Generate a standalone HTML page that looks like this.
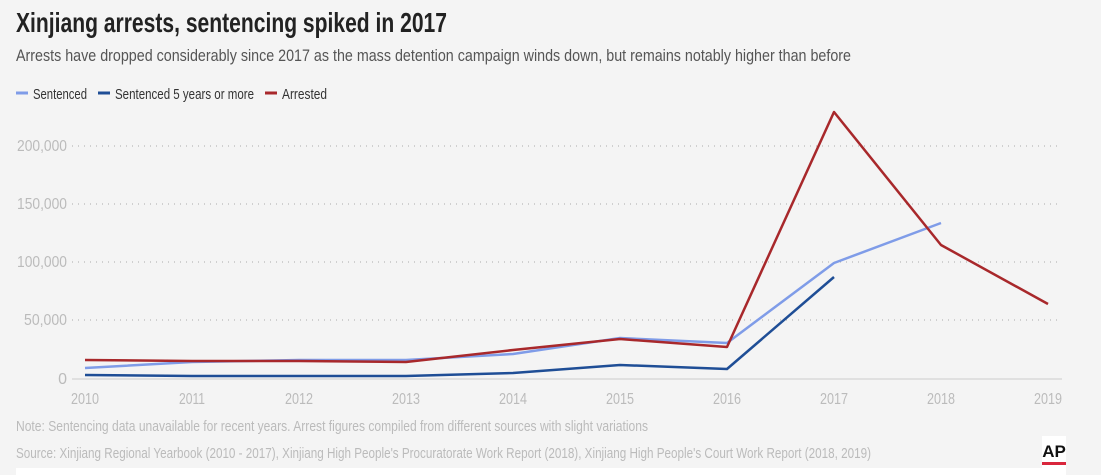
<!DOCTYPE html>
<html><head><style>body{margin:0;background:#f4f4f4;}svg{display:block;font-family:"Liberation Sans Narrow","Liberation Sans",sans-serif;}</style></head><body>
<svg width="1101" height="475" viewBox="0 0 1101 475">
<rect width="1101" height="475" fill="#f4f4f4"/>
<text x="16" y="32" font-size="28" font-weight="bold" fill="#222" textLength="431" lengthAdjust="spacingAndGlyphs">Xinjiang arrests, sentencing spiked in 2017</text>
<text x="16" y="61" font-size="17" fill="#555" textLength="835" lengthAdjust="spacingAndGlyphs">Arrests have dropped considerably since 2017 as the mass detention campaign winds down, but remains notably higher than before</text>
<line x1="16" y1="93" x2="28" y2="93" stroke="#7f9ce8" stroke-width="3"/>
<text x="33" y="99" font-size="15" fill="#333" textLength="54" lengthAdjust="spacingAndGlyphs">Sentenced</text>
<line x1="98" y1="93" x2="110" y2="93" stroke="#1f4e96" stroke-width="3"/>
<text x="115" y="99" font-size="15" fill="#333" textLength="139" lengthAdjust="spacingAndGlyphs">Sentenced 5 years or more</text>
<line x1="265" y1="93" x2="277" y2="93" stroke="#a8282b" stroke-width="3"/>
<text x="282" y="99" font-size="15" fill="#333" textLength="45" lengthAdjust="spacingAndGlyphs">Arrested</text>
<g stroke="#aaa" stroke-dasharray="1 5" stroke-width="1">
<line x1="72" y1="146" x2="1062" y2="146"/><line x1="72" y1="204" x2="1062" y2="204"/><line x1="72" y1="262" x2="1062" y2="262"/><line x1="72" y1="320" x2="1062" y2="320"/></g>
<line x1="72" y1="379" x2="1062" y2="379" stroke="#ccc"/>
<g font-size="16" fill="#bbb" text-anchor="end" lengthAdjust="spacingAndGlyphs">
<text x="67" y="151" textLength="50" lengthAdjust="spacingAndGlyphs">200,000</text><text x="67" y="209" textLength="50" lengthAdjust="spacingAndGlyphs">150,000</text><text x="67" y="267" textLength="50" lengthAdjust="spacingAndGlyphs">100,000</text><text x="67" y="325" textLength="43" lengthAdjust="spacingAndGlyphs">50,000</text><text x="67" y="384">0</text></g>
<g font-size="16" fill="#bbb" text-anchor="middle">
<text x="85" y="404" textLength="28" lengthAdjust="spacingAndGlyphs">2010</text><text x="192" y="404" textLength="26" lengthAdjust="spacingAndGlyphs">2011</text><text x="299" y="404" textLength="28" lengthAdjust="spacingAndGlyphs">2012</text><text x="406" y="404" textLength="28" lengthAdjust="spacingAndGlyphs">2013</text><text x="513" y="404" textLength="28" lengthAdjust="spacingAndGlyphs">2014</text><text x="620" y="404" textLength="28" lengthAdjust="spacingAndGlyphs">2015</text><text x="727" y="404" textLength="28" lengthAdjust="spacingAndGlyphs">2016</text><text x="834" y="404" textLength="28" lengthAdjust="spacingAndGlyphs">2017</text><text x="941" y="404" textLength="28" lengthAdjust="spacingAndGlyphs">2018</text><text x="1048" y="404" textLength="28" lengthAdjust="spacingAndGlyphs">2019</text></g>
<g fill="none" stroke-width="2.5" stroke-linejoin="round">
<polyline stroke="#7f9ce8" points="85,368 192,362 299,360 406,360 513,354 620,338 727,343 834,263 941,223"/>
<polyline stroke="#1f4e96" points="85,375 192,376 299,376 406,376 513,373 620,365 727,369 834,277"/>
<polyline stroke="#a8282b" points="85,360 192,361 299,361 406,362 513,350 620,339 727,347 834,112 941,245 1048,304"/>
</g>
<text x="16" y="431" font-size="15" fill="#bbb" textLength="632" lengthAdjust="spacingAndGlyphs">Note: Sentencing data unavailable for recent years. Arrest figures compiled from different sources with slight variations</text>
<text x="16" y="458" font-size="15" fill="#bbb" textLength="855" lengthAdjust="spacingAndGlyphs">Source: Xinjiang Regional Yearbook (2010 - 2017), Xinjiang High People's Procuratorate Work Report (2018), Xinjiang High People's Court Work Report (2018, 2019)</text>
<rect x="16" y="468" width="1050" height="7" fill="#fff"/>
<rect x="1042" y="436" width="24" height="32" fill="#fff"/>
<text x="1054" y="457" font-size="17" font-weight="bold" fill="#111" text-anchor="middle" font-family="Liberation Sans">AP</text>
<rect x="1042" y="462" width="24" height="3" fill="#d9263c"/>
</svg>
</body></html>
